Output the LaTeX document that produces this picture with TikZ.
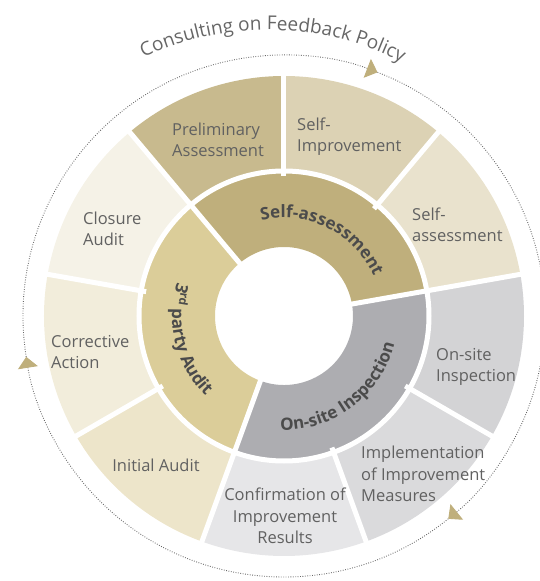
\documentclass[tikz,border=0pt]{standalone}
\usepackage{fontspec}
\setmainfont{Open Sans}
\usetikzlibrary{arrows.meta,decorations.text}

\definecolor{inSelf}{HTML}{BFAF7C}
\definecolor{inAudit}{HTML}{DBCD99}
\definecolor{inSite}{HTML}{ADADB1}
\definecolor{outPrelim}{HTML}{C8BA8E}
\definecolor{outSelfImp}{HTML}{DCD2B4}
\definecolor{outSelfAss}{HTML}{E9E2CD}
\definecolor{outSite}{HTML}{D3D3D5}
\definecolor{outImpl}{HTML}{DADADC}
\definecolor{outConf}{HTML}{E6E6E8}
\definecolor{outInit}{HTML}{EDE5CA}
\definecolor{outCorr}{HTML}{F2EDDB}
\definecolor{outClos}{HTML}{F5F2E7}
\definecolor{labelGrey}{HTML}{616161}
\definecolor{innerGrey}{HTML}{4B4B4B}
\definecolor{titleGrey}{HTML}{666666}
\definecolor{dotGrey}{HTML}{666666}

\newcommand{\outerfont}{\fontsize{16.5}{21.5}\selectfont}
\newcommand{\innerfont}{\fontsize{17}{20}\selectfont\bfseries}
\newcommand{\titlefont}{\fontsize{19}{22}\selectfont}
% annular piece: colour, start angle, end angle, inner radius, outer radius
\newcommand{\ringpart}[5]{%
  \fill[#1] (#2:#4) arc[start angle=#2, end angle=#3, radius=#4]
    -- (#3:#5) arc[start angle=#3, end angle=#2, radius=#5] -- cycle;}

\tikzset{
  steplabel/.style={text=labelGrey, font=\outerfont, align=left, inner sep=0pt},
  gap/.style={draw=white, line width=5pt},
  loopline/.style={draw=dotGrey, line width=0.9pt, dash pattern=on 0.8pt off 1.6pt,
    -{Triangle[length=11pt, width=20pt, color=inSelf]}},
  ringtext/.style={decorate, decoration={text along path, text align=center,
    text color=innerGrey}}
}

\begin{document}
\begin{tikzpicture}[x=1pt, y=1pt]
\useasboundingbox (-284,-265) rectangle (255,316);

% ---------- Outer ring ----------
\ringpart{outSelfImp}{50}{90}{145}{240}
\ringpart{outSelfAss}{10}{50}{145}{240}
\ringpart{outSite}{-30}{10}{145}{240}
\ringpart{outImpl}{-70}{-30}{145}{240}
\ringpart{outConf}{-110}{-70}{145}{240}
\ringpart{outInit}{-150}{-110}{145}{240}
\ringpart{outCorr}{170}{210}{145}{240}
\ringpart{outClos}{130}{170}{145}{240}
\ringpart{outPrelim}{90}{130}{145}{240}

% ---------- Inner ring ----------
\ringpart{inSelf}{10}{130}{69}{145}
\ringpart{inAudit}{130}{250}{69}{145}
\ringpart{inSite}{250}{370}{69}{145}

% ---------- White gaps ----------
\draw[gap] (0,0) circle[radius=145];
\draw[gap] (10:60) -- (10:245);
\draw[gap] (130:60) -- (130:245);
\draw[gap] (250:60) -- (250:245);
\draw[gap] (50:140) -- (50:245);
\draw[gap] (90:140) -- (90:245);
\draw[gap] (170:140) -- (170:245);
\draw[gap] (210:140) -- (210:245);
\draw[gap] (290:140) -- (290:245);
\draw[gap] (330:140) -- (330:245);

% ---------- Step labels ----------
\node[steplabel, anchor=west] (prelim) at (-112,176) {Preliminary\\Assessment};
\node[steplabel, anchor=west] (selfimp) at (13,179.5) {Self-\\Improvement};
\node[steplabel, anchor=west] (selfass) at (128,91) {Self-\\assessment};
\node[steplabel, anchor=west] (onsite) at (152,-51) {On-site\\Inspection};
\node[steplabel, anchor=west] (implem) at (77,-158) {Implementation\\of Improvement\\Measures};
\node[steplabel, align=center] (confirm) at (1,-200) {Confirmation of\\Improvement\\Results};
\node[steplabel] (initial) at (-128,-149) {Initial Audit};
\node[steplabel, anchor=west] (corrective) at (-233,-36) {Corrective\\Action};
\node[steplabel, anchor=west] (closure) at (-201,87) {Closure\\Audit};

% ---------- Phase names on the inner ring ----------
\path[ringtext, decoration={text={|\innerfont|Self-assessment}}]
  (163.5:98) arc[start angle=163.5, end angle=-36.5, radius=98];
\path[ringtext, decoration={text={|\innerfont|3{\textsuperscript{rd}} party Audit}}]
  (114:112) arc[start angle=114, end angle=274, radius=112];
\path[ringtext, decoration={text={|\innerfont|On-site Inspection}}]
  (227:114) arc[start angle=227, end angle=387, radius=114];

% ---------- Feedback loop ----------
\draw[loopline] (189:261) arc[start angle=189, end angle=69, radius=261];
\draw[loopline] (69:261) arc[start angle=69, end angle=-51, radius=261];
\draw[loopline] (-51:261) arc[start angle=-51, end angle=-171, radius=261];

\path[ringtext, decoration={text color=titleGrey,
    text={|\titlefont|Consulting on Feedback Policy}}]
  ([shift={(-16,-7)}]149:293) arc[start angle=149, end angle=29, radius=293];

\end{tikzpicture}
\end{document}
